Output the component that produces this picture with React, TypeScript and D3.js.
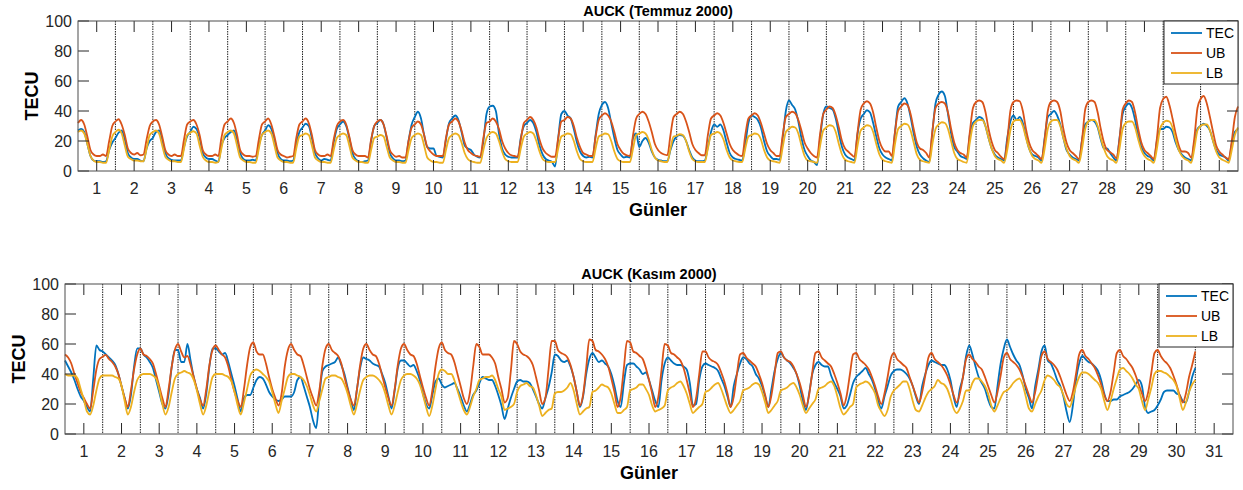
import React from "react";
import * as d3 from "d3";

// ---------- DATA (2-hourly samples, 12 per day, starting at day 0.5) ----------
const yTicks = [0, 20, 40, 60, 80, 100];
const dayTicks = d3.range(1, 32);
const seriesNames = ["TEC", "UB", "LB"];
const seriesColors = ["#0072BD", "#D95319", "#EDB120"];

// AUCK (Temmuz 2000)
const julTEC = [
  [27, 28, 26, 18, 10, 7, 6.5, 6.5, 6, 6.5, 14, 19],
  [22, 25.5, 27, 21, 12, 9, 8, 8, 7, 6.5, 15, 20],
  [22, 26, 27, 21, 12, 8.5, 7.5, 7, 7, 7, 16, 23],
  [26, 29.5, 28, 22, 12, 9, 8, 8, 7, 6, 17, 22],
  [24, 26, 27, 21, 12, 8, 7, 7, 7.5, 7, 17, 24],
  [27, 30.5, 28, 21, 12, 8, 7, 7, 6.5, 7, 18, 26],
  [29, 31.5, 30, 22, 12, 8.5, 7, 8, 7.5, 7, 19, 28],
  [31, 33, 30, 22, 12, 8, 6.5, 6, 6.5, 7, 20, 30],
  [32, 34, 31, 22, 12, 8.5, 7, 7, 6.5, 7, 20, 31],
  [36, 39.5, 35, 24, 16, 15, 15, 10, 9.5, 9, 21, 32],
  [35, 37, 34, 26, 17, 15, 14, 11, 9.5, 9, 20, 38],
  [43, 43.5, 40, 25, 15, 11, 9.5, 9, 9, 9, 22, 30],
  [32, 34, 32, 26, 17, 11, 8, 7, 6, 3, 22, 38],
  [40, 37, 35, 28, 19, 13, 10, 9, 9.5, 9, 24, 38],
  [44, 46, 42, 32, 22, 14, 11, 9, 9.5, 9, 22, 25],
  [16, 20, 22, 19, 13, 9, 7.5, 7, 6.5, 6.5, 14, 20],
  [23, 24, 23.5, 20, 14, 9, 7, 6.5, 6.5, 7, 16, 26],
  [31, 29.5, 31, 27, 19, 12, 9, 8, 7.5, 7, 18, 32],
  [37, 36, 34, 29, 20, 13, 10, 8, 8, 7.5, 22, 40],
  [47, 44, 41, 33, 22, 14, 10, 7, 6, 4, 22, 38],
  [43, 42, 41, 35, 25, 16, 11, 9, 8, 7, 25, 35],
  [38, 40.5, 39, 32, 23, 15, 11, 9, 8, 7, 26, 43],
  [46, 48.5, 45, 36, 25, 16, 11, 8.5, 7, 6, 26, 45],
  [51, 53, 50, 38, 25, 16, 13, 10, 9, 8, 24, 32],
  [34, 36, 35, 30, 22, 15, 11, 9, 8, 7, 22, 33],
  [37, 34, 36, 32, 23, 15, 11, 10, 9, 7, 22, 36],
  [38, 40, 37, 31, 22, 14, 11, 9, 8, 7, 21, 31],
  [33, 34, 33, 29, 21, 15, 15, 12, 9, 7, 22, 38],
  [43, 45, 42, 34, 24, 16, 12, 10, 9, 7, 20, 28],
  [28, 29.5, 29, 26, 19, 14, 11, 9, 8, 7, 19, 28],
  [30, 31.5, 30, 27, 20, 14, 11, 10, 9, 7, 18, 26],
  [28],
];
const julUB = [
  [32, 34, 31, 23, 14, 11, 10, 10, 11, 10, 20, 30],
  [33, 34.5, 31, 24, 15, 12, 11, 12, 10.5, 11, 21, 30],
  [33, 34, 31, 23, 14, 11, 10, 11, 10, 10, 21, 31],
  [33, 34, 31, 24, 14, 11, 10, 10, 11, 10, 22, 31],
  [33, 35, 32, 24, 14, 11, 10, 10, 9.5, 10, 21, 31],
  [33, 35, 31, 23, 14, 11, 10, 9, 9.5, 10, 22, 31],
  [33, 35, 32, 24, 14, 11, 10, 10, 11, 10, 21, 30],
  [33, 34, 31, 23, 14, 11, 10, 10, 10, 9, 21, 30],
  [33, 34, 31, 23, 14, 11, 9.5, 10, 9, 9, 20, 29],
  [31, 33, 31, 24, 16, 13, 11, 10, 10, 10, 22, 31],
  [33, 35, 33, 27, 19, 14, 12, 10.5, 10, 9.5, 22, 32],
  [33, 35, 33, 28, 20, 15, 12, 10.5, 10, 9.5, 21, 32],
  [34, 36, 34, 29, 21, 15, 12, 10.5, 9.5, 9.5, 22, 33],
  [34, 36, 35, 30, 22, 16, 12, 11, 10, 10, 23, 34],
  [37, 38.5, 37, 33, 26, 18, 14, 11.5, 10.5, 10, 24, 35],
  [38, 39.5, 38, 33, 26, 18, 14, 12, 11, 10.5, 24, 36],
  [38, 39.5, 38, 33, 26, 18, 14, 12, 10.5, 10.5, 24, 35],
  [37, 38.5, 37, 32, 25, 18, 14, 12, 10.5, 10, 24, 35],
  [37, 38.5, 37, 32, 25, 18, 14, 12, 10, 10, 24, 36],
  [38, 39.5, 38.5, 34, 27, 19, 15, 12, 10, 9, 25, 38],
  [41, 43, 42, 37, 29, 20, 15, 13, 11, 9.5, 26, 41],
  [45, 46.5, 45, 39, 29, 20, 15, 13, 13, 10, 26, 40],
  [43, 45, 44, 38, 28, 19, 15, 14, 12, 9, 27, 42],
  [45, 46, 45, 39, 28, 19, 14, 12, 11, 9, 26, 42],
  [46, 47, 46, 39.5, 28, 19.5, 14, 12, 9.5, 8, 20, 40],
  [46, 47, 46.5, 40, 28, 19, 14, 12, 10, 8, 21, 40],
  [46, 47, 46, 40, 28, 19, 14, 12, 10, 8, 21, 41],
  [46, 47, 46, 39, 28, 19, 14, 12.5, 11, 8.5, 21, 41],
  [45, 47, 46, 39, 28, 19, 14, 12, 10, 8, 22, 42],
  [48, 49.5, 44, 35, 25, 17, 13, 13, 12, 9, 22, 42],
  [48, 50, 45, 36, 26, 17, 13, 11, 9, 8, 20, 36],
  [43],
];
const julLB = [
  [26, 27, 25, 18, 10, 7, 6, 6, 5.5, 5.5, 14, 23],
  [26, 27.5, 25, 17, 9.5, 8, 7, 7, 6.5, 6.5, 15, 24],
  [26, 27, 25, 17, 9.5, 7.5, 6.5, 6.5, 6, 6, 15, 24],
  [25.5, 26.5, 25, 17, 9.5, 7, 6, 6, 5.5, 6, 15, 24],
  [26, 27, 25, 17, 9, 7, 6, 6, 5.5, 5.5, 15, 24],
  [26, 27, 25, 17, 9, 7, 6, 6, 5.5, 5.5, 15, 23],
  [24, 25, 24, 17, 9, 7, 6, 6, 5.5, 5.5, 14, 22],
  [24, 25, 24, 17, 9, 7, 6, 6, 5.5, 5.5, 14, 22],
  [23, 24, 23, 16, 9, 7, 6, 6, 5.5, 5.5, 14, 22],
  [24, 25, 24, 17, 9, 7, 6, 6, 5.5, 5.5, 14, 22],
  [24, 25, 24, 19, 12, 8, 6.5, 6, 5.5, 5.5, 14, 22],
  [25, 26, 25, 20, 13, 8, 6.5, 6, 6, 6, 15, 23],
  [25, 26, 25, 20, 13, 8, 6.5, 6, 6, 6, 15, 23],
  [24, 25, 24.5, 20, 13, 8, 6.5, 6, 6, 6, 15, 23],
  [24, 25, 24.5, 20, 13, 8, 6.5, 6, 6, 6, 15, 24],
  [25, 26, 25, 21, 14, 9, 7, 6.5, 6, 6, 15, 23],
  [23.5, 24.5, 24, 20, 13, 8, 6.5, 6, 6, 6, 15, 24],
  [25, 26, 25, 21, 14, 9, 7, 6.5, 6, 6, 15, 23],
  [24, 25, 24.5, 21, 14, 9, 7, 6.5, 6, 5.5, 16, 26],
  [28, 29.5, 29, 25, 17, 10, 7, 6.5, 6, 5.5, 17, 27],
  [29, 30.5, 30, 26, 18, 11, 7.5, 6.5, 6, 5.5, 17, 27],
  [29, 30.5, 30, 26, 18, 11, 7.5, 6.5, 6, 5.5, 18, 28],
  [30, 31.5, 31, 27, 19, 11, 7.5, 6.5, 6, 5.5, 18, 28],
  [31, 32.5, 32, 28, 20, 12, 8, 7, 6, 5.5, 19, 30],
  [33, 34, 34, 30, 22, 15, 10, 8, 7, 5.5, 14, 27],
  [33, 34, 34, 30, 22, 15, 10, 8, 7, 5.5, 15, 28],
  [33, 34, 34, 30, 22, 15, 10, 8, 7, 5.5, 15, 28],
  [33, 34, 34, 30, 22, 15, 10, 8, 7, 5.5, 15, 28],
  [32, 33, 33, 29, 21, 14, 10, 8, 7, 5.5, 15, 28],
  [32, 33.5, 33, 29, 21, 14, 10, 8, 7, 5.5, 15, 27],
  [30, 31, 31, 27, 20, 13, 9, 7.5, 6.5, 5.5, 14, 24],
  [29],
];

// AUCK (Kasım 2000)
const novTEC = [
  [49, 45, 41, 36, 30, 25, 22, 18, 15, 37, 59, 56],
  [55, 53, 51, 49, 46, 40, 32, 24, 17, 26, 45, 57],
  [57, 53, 51, 48, 44, 36, 28, 20, 17, 27, 45, 56],
  [56, 48, 48, 60, 49, 38, 30, 24, 17, 27, 45, 57],
  [57, 55, 53, 54, 48, 40, 32, 23, 15, 24, 26, 26],
  [31, 36, 38, 37, 33, 28, 25, 23, 22, 23, 25, 25],
  [25, 28, 36, 38, 32, 25, 18, 9, 4, 25, 42, 45],
  [46, 47, 48, 51, 46, 40, 31, 23, 16, 30, 44, 51],
  [50, 49, 47, 46, 45, 40, 34, 25, 17, 29, 44, 49],
  [49, 47, 45, 46, 42, 36, 27, 20, 17, 26, 35, 37],
  [33, 31, 32, 33, 34, 30, 25, 19, 15, 20, 26, 29],
  [34, 38, 37, 36, 36, 32, 26, 19, 10, 17, 24, 30],
  [35, 36, 35, 35, 34, 30, 25, 20, 17, 24, 31, 41],
  [53, 52, 49, 48, 49, 45, 38, 28, 18, 25, 40, 50],
  [54, 51, 48, 49, 47, 45, 40, 32, 22, 18, 34, 46],
  [47, 47, 45, 43, 40, 41, 36, 29, 22, 18, 36, 47],
  [51, 49, 47, 46, 46, 45, 43, 34, 19, 20, 36, 45],
  [47, 46, 45, 44, 42, 37, 32, 25, 18, 32, 40, 47],
  [51, 50, 47, 45, 40, 37, 32, 25, 18, 30, 42, 50],
  [54, 51, 49, 47, 44, 40, 32, 22, 16, 27, 40, 46],
  [48, 46, 45, 45, 39, 34, 30, 25, 17, 19, 26, 34],
  [38, 40, 42, 44, 40, 36, 30, 22, 17, 25, 32, 39],
  [42, 43, 43, 42, 40, 37, 32, 25, 20, 32, 40, 46],
  [49, 48, 47, 46, 46, 43, 36, 25, 18, 30, 38, 52],
  [59, 53, 45, 38, 34, 30, 23, 18, 17, 32, 47, 57],
  [63, 58, 53, 49, 46, 39, 30, 24, 17, 32, 43, 55],
  [59, 49, 47, 42, 36, 32, 25, 15, 8, 19, 36, 47],
  [52, 50, 48, 47, 45, 42, 36, 27, 22, 22, 23, 23],
  [25, 26, 27, 28, 30, 33, 36, 32, 18, 14, 15, 16],
  [19, 23, 28, 29, 29, 29, 27, 26, 22, 21, 28, 38],
  [44],
];
const novUB = [
  [53, 51, 47, 40, 34, 28, 24, 20, 17, 29, 43, 50],
  [51.5, 52.7, 50, 48, 45, 40, 32, 24, 18, 29, 43, 53],
  [57, 53, 52, 50, 47, 40, 32, 24, 18, 30, 45, 56],
  [60, 55, 51, 52, 46, 38, 30, 23, 19, 30, 46, 56],
  [59, 56, 53, 51, 45, 36, 28, 22, 18, 30, 46, 58],
  [61, 55, 53, 53, 47, 38, 30, 24, 19, 27, 45, 56],
  [60, 56, 53, 52, 46, 38, 30, 24, 19, 29, 46, 57],
  [60, 56, 54, 52, 47, 38, 30, 23, 19, 30, 46, 57],
  [60, 56, 53, 52, 47, 39, 31, 24, 19, 30, 46, 57],
  [60, 56, 53, 52, 47, 39, 31, 24, 19, 29, 45, 57],
  [61, 56, 54, 53, 48, 40, 32, 24, 20, 28, 45, 60],
  [58, 53, 53, 53, 51, 47, 38, 30, 21, 24, 42, 62],
  [60, 55, 53, 52, 50, 46, 38, 29, 20, 24, 43, 62],
  [62, 56, 54, 53, 51, 46, 38, 28, 19, 26, 44, 63],
  [62, 56, 55, 53, 50, 45, 37, 28, 18, 25, 44, 62],
  [61, 55, 54, 52, 50, 44, 36, 27, 18, 25, 43, 60],
  [59, 54, 53, 51, 49, 44, 36, 27, 18, 24, 40, 55],
  [55, 51, 49, 48, 46, 41, 35, 27, 18, 25, 40, 53],
  [54, 51, 49, 47, 45, 40, 34, 26, 18, 26, 40, 54],
  [55, 51, 49, 48, 45, 40, 34, 26, 18, 26, 41, 54],
  [55, 51, 49, 47, 45, 40, 34, 27, 19, 26, 40, 53],
  [54, 50, 48, 46, 43, 38, 32, 25, 20, 27, 38, 50],
  [54, 50, 48, 46, 44, 38, 32, 26, 21, 28, 39, 51],
  [54, 50, 48, 46, 43, 39, 33, 26, 21, 27, 38, 50],
  [53, 50, 48, 45, 43, 38, 32, 26, 21, 28, 39, 51],
  [54, 50, 48, 46, 43, 38, 32, 26, 21, 28, 40, 52],
  [55, 50, 48, 46, 43, 38, 32, 26, 22, 28, 40, 53],
  [56, 52, 50, 47, 44, 39, 33, 26, 22, 28, 41, 54],
  [56, 52, 50, 47, 44, 39, 33, 27, 22, 28, 41, 54],
  [56, 52, 49, 47, 44, 39, 33, 26, 21, 27, 38, 46],
  [55],
];
const novLB = [
  [40, 39, 39, 39, 37, 30, 23, 15, 13, 19, 29, 37],
  [39, 39, 39, 39, 38, 37, 32, 22, 13, 18, 28, 36],
  [39, 40, 40, 40, 39, 37, 30, 20, 13, 18, 28, 37],
  [40, 41, 42, 41, 40, 36, 29, 20, 13, 19, 29, 38],
  [40, 40, 40, 39, 38, 35, 28, 19, 13, 21, 30, 39],
  [42, 43, 42, 40, 38, 35, 28, 20, 14, 22, 30, 38],
  [40, 40, 39, 38, 36, 32, 26, 19, 15, 22, 30, 37],
  [38, 39, 39, 38, 37, 33, 27, 19, 13, 20, 29, 36],
  [38, 39, 39, 38, 36, 33, 27, 19, 13, 19, 28, 36],
  [39, 40, 40, 39, 37, 33, 26, 18, 12, 19, 30, 40],
  [43, 42, 40, 40, 36, 29, 22, 16, 13, 18, 25, 30],
  [36, 37, 38, 38, 39, 36, 30, 25, 16, 17, 18, 20],
  [28, 32, 33, 34, 32, 31, 26, 19, 12, 14, 16, 17],
  [27, 28, 28, 29, 31, 34, 29, 20, 13, 15, 17, 18],
  [28, 29, 31, 33, 32, 31, 27, 20, 14, 14, 16, 18],
  [29, 30, 31, 33, 33, 30, 26, 19, 15, 16, 17, 19],
  [29, 31, 32, 34, 35, 32, 27, 20, 14, 16, 18, 20],
  [28, 29, 31, 33, 34, 30, 24, 18, 14, 16, 19, 22],
  [29, 30, 31, 33, 34, 33, 28, 21, 14, 16, 19, 22],
  [29, 30, 31, 33, 34, 31, 26, 19, 14, 17, 20, 23],
  [30, 31, 32, 34, 35, 32, 25, 17, 13, 15, 18, 20],
  [31, 33, 34, 35, 34, 31, 27, 19, 15, 12, 16, 25],
  [29, 31, 33, 35, 35, 30, 22, 16, 15, 19, 24, 28],
  [30, 32, 36, 34, 33, 30, 24, 17, 14, 17, 22, 29],
  [29, 34, 37, 37, 35, 32, 27, 19, 15, 19, 24, 28],
  [29, 31, 34, 36, 37, 33, 25, 17, 15, 20, 25, 29],
  [36, 39, 38, 36, 33, 31, 26, 20, 18, 24, 32, 38],
  [41, 41, 40, 38, 36, 34, 30, 22, 16, 22, 30, 37],
  [43, 44, 42, 40, 37, 33, 30, 22, 16, 23, 31, 40],
  [42, 42, 41, 40, 38, 36, 32, 24, 16, 21, 28, 33],
  [36],
];

const FONT = "'Liberation Sans', Arial, Helvetica, sans-serif";
const TXT = "#262626";

type PanelProps = {
  title: string;
  x0: number; x1: number; y0: number; y1: number;
  series: number[][][];
  legendOffsetY: number[];
};

function Panel({ title, x0, x1, y0, y1, series }: PanelProps) {
  const x = d3.scaleLinear().domain([0.5, 31.5]).range([x0, x1]);
  const y = d3.scaleLinear().domain([0, 100]).range([y1, y0]);
  const tick = 11;
  const boundaries = d3.range(1.5, 31, 1);
  const line = d3
    .line<number>()
    .x((_, i) => x(0.5 + i / 12))
    .y((v) => y(v))
    .curve(d3.curveMonotoneX);
  const cx = (x0 + x1) / 2;
  const cy = (y0 + y1) / 2;
  const lgW = 74, lgH = 63;
  const lgX = x1 - lgW, lgY = y0;
  return (
    <g fontFamily={FONT} fill={TXT}>
      <rect x={x0} y={y0} width={x1 - x0} height={y1 - y0} fill="#fff" />
      {boundaries.map((b) => (
        <line key={"b" + b} x1={x(b)} x2={x(b)} y1={y0} y2={y1} stroke="#222" strokeWidth={1} strokeDasharray="1.5 1" />
      ))}
      {series.map((s, k) => (
        <path key={"s" + k} d={line(s.flat()) || ""} fill="none" stroke={seriesColors[k]} strokeWidth={1.8} strokeLinejoin="round" />
      ))}
      {/* ticks */}
      {dayTicks.map((d) => (
        <g key={"xt" + d}>
          <line x1={x(d)} x2={x(d)} y1={y1} y2={y1 - tick} stroke={TXT} strokeWidth={1} />
          <line x1={x(d)} x2={x(d)} y1={y0} y2={y0 + tick} stroke={TXT} strokeWidth={1} />
          <text x={x(d)} y={y1 + 23} textAnchor="middle" fontSize={16}>{d}</text>
        </g>
      ))}
      {yTicks.map((v) => (
        <g key={"yt" + v}>
          <line x1={x0} x2={x0 + tick} y1={y(v)} y2={y(v)} stroke={TXT} strokeWidth={1} />
          <line x1={x1} x2={x1 - tick} y1={y(v)} y2={y(v)} stroke={TXT} strokeWidth={1} />
          <text x={x0 - 6} y={y(v) + 5.7} textAnchor="end" fontSize={16}>{v}</text>
        </g>
      ))}
      <rect x={x0} y={y0} width={x1 - x0} height={y1 - y0} fill="none" stroke="#4d4d4d" strokeWidth={1} />
      <text x={cx} y={y0 - 5} textAnchor="middle" fontSize={14.5} fontWeight="bold" fill="#000">{title}</text>
      <text x={cx} y={y1 + 45} textAnchor="middle" fontSize={18} fontWeight="bold" fill="#000">Günler</text>
      <text transform={`translate(${x0 - 40},${cy}) rotate(-90)`} textAnchor="middle" fontSize={18} fontWeight="bold" fill="#000">TECU</text>
      {/* legend */}
      <rect x={lgX} y={lgY} width={lgW} height={lgH} fill="#fff" stroke="#262626" strokeWidth={1} />
      {seriesNames.map((n, k) => (
        <g key={"lg" + n}>
          <line x1={lgX + 7} x2={lgX + 38} y1={lgY + 12 + k * 20} y2={lgY + 12 + k * 20} stroke={seriesColors[k]} strokeWidth={1.8} />
          <text x={lgX + 42} y={lgY + 12 + k * 20 + 5} fontSize={14} fill="#000">{n}</text>
        </g>
      ))}
    </g>
  );
}

export default function App() {
  return (
    <svg width={1243} height={490} style={{ position: "absolute", left: 0, top: 0, background: "#fff" }}>
      <rect width={1243} height={490} fill="#fff" />
      <Panel title="AUCK (Temmuz 2000)" x0={78} x1={1238} y0={21} y1={171} series={[julTEC, julUB, julLB]} legendOffsetY={[]} />
      <Panel title="AUCK (Kasım 2000)" x0={65} x1={1233} y0={284} y1={434} series={[novTEC, novUB, novLB]} legendOffsetY={[]} />
    </svg>
  );
}
